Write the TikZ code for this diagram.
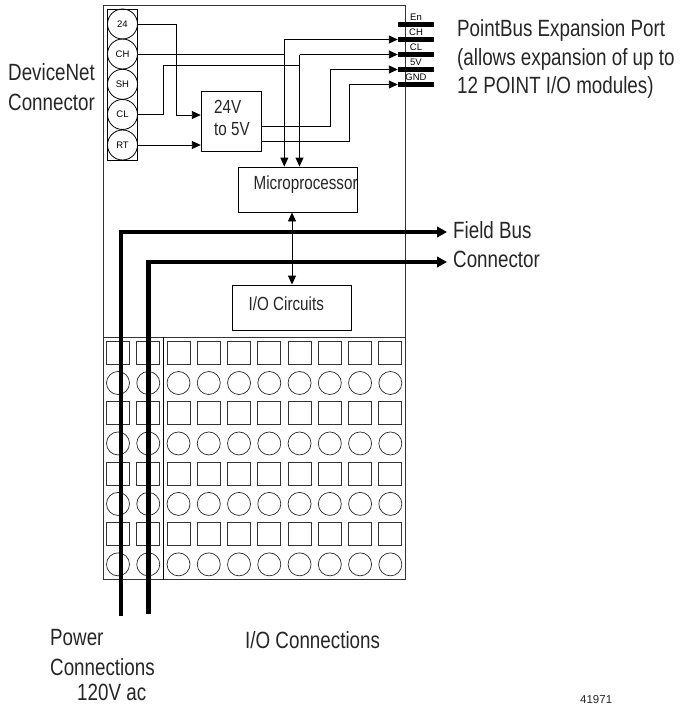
\documentclass[tikz,border=0pt]{standalone}
\usepackage{fontspec}
\setmainfont{Liberation Sans}
\newfontfamily\condfont[FakeStretch=0.80]{Liberation Sans}
\usetikzlibrary{arrows.meta}
\tikzset{
  x=1pt,y=-1pt,
  lbl/.style={font=\condfont\fontsize{23.5}{23.5}\selectfont,inner sep=0pt,anchor=base west,text=black!85},
  boxlbl/.style={font=\condfont\fontsize{19}{19}\selectfont,inner sep=0pt,anchor=base west,text=black!85},
  term/.style={draw,circle,line width=0.8pt,minimum size=30pt,inner sep=0pt,font=\fontsize{9.5}{9.5}\selectfont},
  pinbar/.style={fill=black,inner sep=0pt,minimum width=36pt,minimum height=5pt},
  pinlbl/.style={font=\fontsize{9.5}{9.5}\selectfont,inner sep=0pt},
  blk/.style={draw,line width=0.9pt,inner sep=0pt},
  wire/.style={line width=0.9pt},
  awire/.style={line width=0.9pt,-{Triangle[length=9pt,width=8pt]}},
  dwire/.style={line width=0.9pt,{Triangle[length=9pt,width=8pt]}-{Triangle[length=9pt,width=8pt]}},
  aheavy/.style={line width=4.8pt,-{Triangle[length=10pt,width=10.5pt]}},
  sq/.style={draw=black!80,line width=0.8pt,minimum size=23pt,inner sep=0pt},
  ci/.style={draw=black!85,circle,line width=0.7pt,minimum size=23pt,inner sep=0pt},
}
\begin{document}
\begin{tikzpicture}
\useasboundingbox (0,0) rectangle (686,704);
% outer housing
\draw[line width=0.9pt,draw=black!80] (103,5) rectangle (405,579.5);
\draw[line width=0.8pt,draw=black!80] (103,337) -- (405,337);
\draw[line width=0.8pt] (163,337) -- (163,579.5);
% terminal strip
\draw[line width=0.9pt] (107,9.5) rectangle (137.5,160);
\node[term] (t24) at (122.5,24) {24};
\node[term] (tCH) at (122.5,54) {CH};
\node[term] (tSH) at (122.5,84.3) {SH};
\node[term] (tCL) at (122.5,114.5) {CL};
\node[term] (tRT) at (122.5,145) {RT};
% expansion pins
\node[pinbar] (pEn) at (416,24) {};
\node[pinbar] (pCH) at (416,39.5) {};
\node[pinbar] (pCL) at (416,54.5) {};
\node[pinbar] (p5V) at (416,69.5) {};
\node[pinbar] (pGND) at (416,84.5) {};
\node[pinlbl] (lEn) at (416,17) {En};
\node[pinlbl] (lCH) at (416,32) {CH};
\node[pinlbl] (lCL) at (416,47) {CL};
\node[pinlbl] (l5V) at (416,62) {5V};
\node[pinlbl] (lGND) at (416,77) {GND};
% blocks
\node[blk,minimum width=60.5pt,minimum height=60.5pt] (conv) at (231.5,121.2) {};
\node[boxlbl] (convA) at (214,113) {24V};
\node[boxlbl] (convB) at (214,135) {to 5V};
\node[blk,minimum width=118.5pt,minimum height=45pt] (mcu) at (298,189.5) {};
\node[boxlbl] (mcuT) at (253.5,189.5) {Microprocessor};
\node[blk,minimum width=118.5pt,minimum height=45pt] (io) at (292,307.5) {};
\node[boxlbl] (ioT) at (248.5,310) {I/O Circuits};
% signal wires
\draw[awire] (t24.east) -| (176,115) -- (conv.west |- 0,115);
\draw[awire] (tRT.east) -- (conv.west |- tRT.east);
\coordinate (chJ) at (284.3,54);
\coordinate (clJ) at (299.5,65.5);
\draw[wire] (tCH.east) -- (chJ);
\draw[wire] (tCL.east) -| (163,65.5) -- (clJ);
\draw[awire] (chJ |- pCH.west) -- (pCH.west);
\draw[awire] (chJ |- pCH.west) -- (chJ |- mcu.north);
\draw[awire] (clJ |- pCL.west) -- (pCL.west);
\draw[awire] (clJ |- pCL.west) -- (clJ |- mcu.north);
\draw[awire] (conv.east |- 0,126) -| (330,69.5) -- (p5V.west);
\draw[awire] (conv.east |- 0,141) -| (349.3,84.5) -- (pGND.west);
\draw[dwire] (mcu.south -| 292,0) -- (io.north);
% field bus and power conductors
\coordinate (f1) at (447,232);
\coordinate (f2) at (447,262);
\coordinate (g1) at (121,616);
\coordinate (g2) at (148.3,614);
% terminal block grid
\foreach \c in {0,...,9}{
  \foreach \r in {0,...,3}{
    \node[sq] (s\c\r) at (118+30.26*\c,352.7+60.45*\r) {};
    \node[ci] (c\c\r) at (118+30.26*\c,383+60.45*\r) {};
  }
}
\draw[aheavy] (g1) -- (121,232) -- (f1);
\draw[aheavy] (g2) -- (148.3,262) -- (f2);
% labels
\node[lbl] (a1) at (8,80) {DeviceNet};
\node[lbl] (a2) at (8,110) {Connector};
\node[lbl] (b1) at (457,36.7) {PointBus Expansion Port};
\node[lbl] (b2) at (457,65) {(allows expansion of up to};
\node[lbl] (b3) at (457,93) {12 POINT I/O modules)};
\node[lbl] (d1) at (453,238) {Field Bus};
\node[lbl] (d2) at (453,267) {Connector};
\node[lbl] (e1) at (50,645) {Power};
\node[lbl] (e2) at (50,675) {Connections};
\node[lbl] (e3) at (77,700) {120V ac};
\node[lbl] (e4) at (245,648) {I/O Connections};
\node[font=\fontsize{11.5}{11.5}\selectfont,inner sep=0pt,anchor=base west,text=black!85] (e5) at (580,703) {41971};
\end{tikzpicture}
\end{document}
